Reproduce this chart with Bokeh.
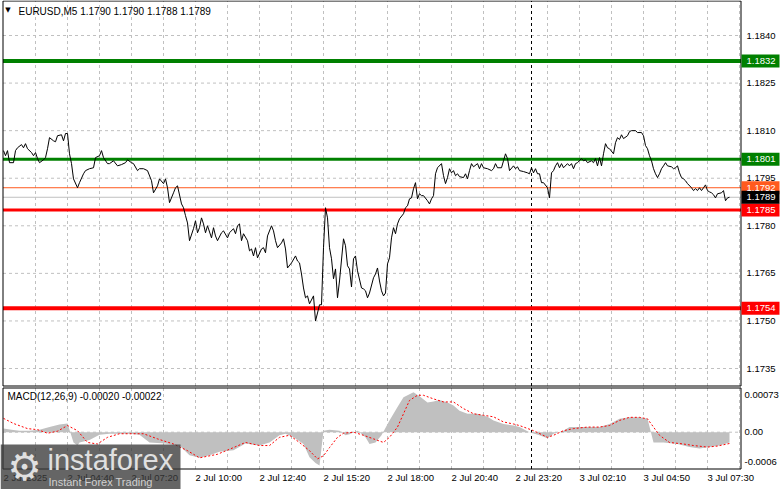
from bokeh.plotting import figure
from bokeh.models import Range1d
from bokeh.core.properties import value
from bokeh.embed import file_html
from bokeh.resources import INLINE

FONT = "Liberation Sans"

# ---------------- data ----------------
symbol_title = "EURUSD,M5  1.1790 1.1790 1.1788 1.1789"
macd_title = "MACD(12,26,9) -0.00020 -0.00022"

price_bar = [0, 1, 2, 3, 5, 6, 7, 9, 10, 11, 12, 14, 15, 16, 17, 18, 20, 21, 22, 23, 25, 26, 27, 29, 30, 31, 32,
             33, 34, 35, 37, 38, 40, 41, 43, 45, 46, 48, 49, 50, 52, 53, 55, 57, 59, 61, 62, 64, 65, 67, 68, 70,
             72, 74, 75, 77, 78, 80, 81, 82, 83, 85, 86, 87, 89, 90, 91, 92, 93, 95, 96, 97, 98, 99, 100, 101,
             102, 104, 105, 106, 107, 109, 110, 112, 113, 115, 116, 117, 118, 119, 120, 122, 123, 124, 125, 126,
             127, 129, 130, 131, 132, 134, 135, 136, 137, 139, 140, 141, 142, 144, 146, 147, 148, 149, 150, 151,
             152, 153, 155, 156, 157, 158, 159, 160, 161, 162, 163, 164, 165, 166, 167, 168, 170, 171, 172, 173,
             174, 175, 176, 177, 179, 180, 181, 182, 183, 185, 186, 187, 188, 189, 190, 191, 192, 193, 194, 195,
             196, 197, 198, 200, 201, 202, 203, 204, 205, 206, 207, 208, 209, 210, 212, 213, 214, 215, 216, 217,
             219, 220, 221, 222, 223, 224, 225, 226, 227, 228, 230, 231, 232, 233, 234, 235, 237, 238, 239, 240,
             242, 244, 245, 246, 247, 249, 250, 251, 252, 253, 255, 256, 257, 258, 260, 262, 263, 264, 265, 266,
             267, 268, 269, 270, 272, 273, 274, 275, 276, 277, 278, 279, 280, 282, 283, 284, 285, 286, 287, 289,
             290, 291, 292, 294, 295, 296, 297, 298, 299, 300, 301, 302, 303, 305, 306, 307, 308, 309, 310, 312,
             313, 314, 316, 317, 319, 320, 321, 322, 323, 324, 325, 326, 327, 328, 329, 330, 331, 332, 334, 335,
             336, 337, 338, 339, 340, 341, 342, 344, 345, 346, 347, 348, 349, 350, 351, 352, 353, 354, 355, 356,
             357, 359, 360, 361, 362, 363]
price_close = [1.18037, 1.18021, 1.18037, 1.17999, 1.17999, 1.18037, 1.18046, 1.18056, 1.18046, 1.18059, 1.18043,
               1.18031, 1.18021, 1.18031, 1.18012, 1.17999, 1.18008, 1.18015, 1.18043, 1.18078, 1.18068, 1.18065,
               1.18084, 1.18087, 1.18068, 1.18091, 1.18091, 1.18027, 1.17996, 1.17948, 1.17920, 1.17936, 1.17964,
               1.17974, 1.17980, 1.17983, 1.18015, 1.18021, 1.18037, 1.18015, 1.17996, 1.17996, 1.18005, 1.17989,
               1.17993, 1.17999, 1.18008, 1.17999, 1.17996, 1.17974, 1.17980, 1.17980, 1.17974, 1.17942, 1.17904,
               1.17926, 1.17948, 1.17933, 1.17948, 1.17920, 1.17873, 1.17904, 1.17920, 1.17926, 1.17869, 1.17857,
               1.17832, 1.17809, 1.17753, 1.17791, 1.17816, 1.17778, 1.17794, 1.17825, 1.17806, 1.17778, 1.17800,
               1.17762, 1.17794, 1.17768, 1.17753, 1.17778, 1.17784, 1.17762, 1.17778, 1.17791, 1.17775, 1.17800,
               1.17806, 1.17753, 1.17775, 1.17753, 1.17721, 1.17727, 1.17705, 1.17731, 1.17699, 1.17727, 1.17731,
               1.17715, 1.17768, 1.17800, 1.17784, 1.17753, 1.17731, 1.17746, 1.17759, 1.17727, 1.17667, 1.17683,
               1.17705, 1.17689, 1.17683, 1.17648, 1.17604, 1.17573, 1.17579, 1.17554, 1.17579, 1.17500, 1.17525,
               1.17551, 1.17551, 1.17731, 1.17857, 1.17825, 1.17731, 1.17696, 1.17633, 1.17664, 1.17573, 1.17626,
               1.17759, 1.17737, 1.17674, 1.17664, 1.17607, 1.17696, 1.17705, 1.17658, 1.17604, 1.17601, 1.17595,
               1.17573, 1.17588, 1.17636, 1.17648, 1.17667, 1.17626, 1.17595, 1.17579, 1.17588, 1.17680, 1.17699,
               1.17762, 1.17794, 1.17775, 1.17806, 1.17822, 1.17838, 1.17857, 1.17863, 1.17885, 1.17888, 1.17917,
               1.17936, 1.17885, 1.17901, 1.17895, 1.17895, 1.17879, 1.17869, 1.17885, 1.17895, 1.17964, 1.17983,
               1.17996, 1.17958, 1.17933, 1.17952, 1.17980, 1.17967, 1.17974, 1.17958, 1.17964, 1.17955, 1.17952,
               1.17964, 1.17948, 1.17974, 1.17996, 1.17986, 1.17996, 1.17980, 1.17996, 1.17983, 1.17980, 1.17974,
               1.17980, 1.17996, 1.17983, 1.17983, 1.18005, 1.18027, 1.18012, 1.17974, 1.17989, 1.17980, 1.17986,
               1.17974, 1.17971, 1.17967, 1.17964, 1.17983, 1.17967, 1.17980, 1.17964, 1.17964, 1.17936, 1.17936,
               1.17920, 1.17888, 1.17967, 1.17974, 1.17989, 1.17999, 1.17983, 1.17996, 1.17983, 1.17996, 1.17989,
               1.17996, 1.17980, 1.17996, 1.17999, 1.18012, 1.18005, 1.18008, 1.17999, 1.18005, 1.17999, 1.18012,
               1.17989, 1.18015, 1.17989, 1.18027, 1.18059, 1.18046, 1.18043, 1.18027, 1.18062, 1.18078, 1.18072,
               1.18087, 1.18075, 1.18084, 1.18097, 1.18100, 1.18100, 1.18094, 1.18094, 1.18084, 1.18053, 1.18043,
               1.18021, 1.18005, 1.17980, 1.17964, 1.17952, 1.17964, 1.17980, 1.17989, 1.17999, 1.17989, 1.17986,
               1.17980, 1.17983, 1.17989, 1.17967, 1.17952, 1.17948, 1.17942, 1.17933, 1.17920, 1.17911, 1.17917,
               1.17911, 1.17920, 1.17911, 1.17920, 1.17929, 1.17911, 1.17907, 1.17904, 1.17898, 1.17888, 1.17901,
               1.17904, 1.17911, 1.17879, 1.17888, 1.17890]

macd_bar = [0, 4, 8, 13, 18, 23, 28, 32, 33, 35, 37, 38, 43, 48, 53, 58, 63, 68, 73, 81, 88, 93, 98, 103, 108,
            115, 121, 126, 128, 133, 138, 141, 145, 150, 153, 156, 158, 160, 163, 168, 171, 173, 177, 178, 181,
            183, 186, 189, 193, 197, 200, 205, 208, 212, 215, 218, 222, 225, 228, 232, 237, 242, 245, 250, 255,
            258, 262, 263, 268, 272, 275, 280, 283, 288, 298, 303, 308, 313, 318, 322, 325, 330, 337, 343, 348,
            353, 358, 363]
macd_main = [0.00007, 0.00005, 0.00003, 0.00003, 0.00005, 0.00010, 0.00015, 0.00017, 0.00005, -0.00020, -0.00026,
             -0.00020, -0.00015, -0.00005, -0.00003, -0.00003, -0.00003, -0.00005, -0.00020, -0.00022, -0.00026,
             -0.00045, -0.00050, -0.00045, -0.00038, -0.00035, -0.00022, -0.00025, -0.00026, -0.00020, -0.00006,
             -0.00003, -0.00010, -0.00023, -0.00049, -0.00060, -0.00065, 0.00003, 0.00005, 0.00003, -0.00006,
             -0.00004, 0.00003, 0.0, -0.00010, -0.00023, -0.00020, -0.00006, 0.00023, 0.00049, 0.00068, 0.00078,
             0.00070, 0.00058, 0.00060, 0.00063, 0.00058, 0.00052, 0.00042, 0.00036, 0.00036, 0.00030, 0.00023,
             0.00016, 0.00013, 0.00010, 0.00002, 0.0, -0.00006, -0.00012, -0.00003, 0.00003, 0.00010, 0.00010,
             0.00010, 0.00016, 0.00026, 0.00029, 0.00029, 0.00026, -0.00020, -0.00020, -0.00023, -0.00029,
             -0.00032, -0.00029, -0.00026, -0.00020]

signal_bar = [0, 5, 12, 17, 22, 27, 32, 37, 42, 47, 52, 58, 70, 77, 85, 92, 98, 107, 115, 121, 128, 133, 138, 143,
              148, 153, 157, 160, 163, 167, 170, 175, 180, 185, 190, 193, 197, 200, 203, 207, 210, 215, 220, 225,
              230, 235, 240, 245, 250, 255, 258, 265, 272, 275, 280, 285, 292, 298, 303, 308, 313, 318, 322, 325,
              328, 333, 340, 345, 352, 357, 363]
signal_val = [0.00027, 0.00017, 0.00007, 0.00005, -0.00002, 0.00002, 0.00013, 0.00003, -0.00020, -0.00023,
              -0.00010, -0.00003, -0.00003, -0.00013, -0.00023, -0.00036, -0.00050, -0.00043, -0.00030, -0.00020,
              -0.00026, -0.00026, -0.00010, -0.00006, -0.00020, -0.00036, -0.00052, -0.00046, -0.00030, -0.00010,
              -0.00002, 0.0, -0.00006, -0.00013, -0.00020, -0.00010, 0.00010, 0.00036, 0.00062, 0.00072, 0.00072,
              0.00065, 0.00059, 0.00059, 0.00046, 0.00036, 0.00033, 0.00030, 0.00020, 0.00016, 0.00013, 0.00003,
              -0.00010, -0.00006, 0.00003, 0.00007, 0.00010, 0.00010, 0.00013, 0.00023, 0.00029, 0.00029, 0.00026,
              0.00010, -0.00006, -0.00020, -0.00023, -0.00026, -0.00029, -0.00027, -0.00022]

price_ticks = [1.1735, 1.1750, 1.1765, 1.1780, 1.1795, 1.1810, 1.1825, 1.1840]
time_tick_bars = [0, 32, 64, 96, 128, 160, 192, 224, 256, 288, 320, 352]
time_tick_labels = ["2 Jul 2025", "2 Jul 04:40", "2 Jul 07:20", "2 Jul 10:00", "2 Jul 12:40", "2 Jul 15:20",
                    "2 Jul 18:00", "2 Jul 20:40", "2 Jul 23:20", "3 Jul 02:10", "3 Jul 04:50", "3 Jul 07:30"]
grid_bars = list(range(16, 369, 16))
day_start_bar = 264
macd_ticks = [0.00073, 0.0, -0.00058]
macd_tick_labels = ["0.00073", "0.00", "-0.0006"]

level_price = [1.1832, 1.1801, 1.1785, 1.1754]
level_color = ["#008000", "#008000", "#ff0000", "#ff0000"]
level_width = [4, 3, 3, 4]
ask_price, bid_price = 1.1792, 1.1789

# ---------------- scales (screen <-> data) ----------------
W, H = 781, 489
PX_PER_BAR = 2.0
BAR_AT_0 = -1.5                       # bar index at left edge of canvas
P_TOP, P_PER_PX = 1.185104, 1 / 31714.0   # price at top edge, price per pixel
M_TOP, M_PER_PX = 0.0084182, 0.0000195    # macd at top edge, macd per pixel

def bx(px):  # screen x -> bar
    return BAR_AT_0 + px / PX_PER_BAR

def py(px):  # screen y -> price
    return P_TOP - px * P_PER_PX

def my(px):  # screen y -> macd
    return M_TOP - px * M_PER_PX

f = figure(width=W, height=H, output_backend="svg", toolbar_location=None,
           x_range=Range1d(bx(0), bx(W)), y_range=Range1d(py(H), py(0)),
           x_axis_location=None, y_axis_location=None,
           min_border=0, min_border_left=0, min_border_right=0, min_border_top=0, min_border_bottom=0)
f.extra_y_ranges = {"macd": Range1d(my(H), my(0))}
f.outline_line_color = None
f.xgrid.visible = False
f.ygrid.visible = False
f.background_fill_color = "white"
f.border_fill_color = "white"

GRID = "#c0c0c0"
L, R = bx(2.5), bx(740.5)
MAIN_T, MAIN_B = py(0.5), py(385.5)
MACD_T, MACD_B = my(387.5), my(468.5)

# grids
f.segment(x0=[L] * len(price_ticks), x1=[R] * len(price_ticks), y0=price_ticks, y1=price_ticks,
          line_color=GRID, line_dash="3 3", line_width=1)
f.segment(x0=grid_bars, x1=grid_bars, y0=[MAIN_B] * len(grid_bars), y1=[MAIN_T] * len(grid_bars),
          line_color=GRID, line_dash="3 3", line_width=1)
f.segment(x0=grid_bars, x1=grid_bars, y0=[MACD_B] * len(grid_bars), y1=[MACD_T] * len(grid_bars),
          line_color=GRID, line_dash="3 3", line_width=1, y_range_name="macd")
f.segment(x0=[L], x1=[R], y0=[0.0], y1=[0.0], line_color=GRID, line_dash="3 3", line_width=1,
          y_range_name="macd")

# day separator
f.segment(x0=[day_start_bar], x1=[day_start_bar], y0=[MAIN_B], y1=[MAIN_T], line_color="black",
          line_dash="3 3", line_width=1)
f.segment(x0=[day_start_bar], x1=[day_start_bar], y0=[MACD_B], y1=[MACD_T], line_color="black",
          line_dash="3 3", line_width=1, y_range_name="macd")

# bid / ask lines
f.segment(x0=[L], x1=[R], y0=[ask_price], y1=[ask_price], line_color="#ff5a1e", line_width=1)
f.segment(x0=[L], x1=[R], y0=[bid_price], y1=[bid_price], line_color="#c0c0c0", line_width=1)

# level lines
for lv, col, w in zip(level_price, level_color, level_width):
    f.segment(x0=[L], x1=[R], y0=[lv], y1=[lv], line_color=col, line_width=w)

# price
f.line(price_bar, price_close, line_color="black", line_width=1)

# macd
f.varea(x=macd_bar, y1=[0.0] * len(macd_bar), y2=macd_main, fill_color="#c0c0c0", fill_alpha=1.0,
        y_range_name="macd")
f.line(signal_bar, signal_val, line_color="#ff0000", line_dash="2 2", line_width=1, y_range_name="macd")

# frames
f.quad(left=[L], right=[R], top=[MAIN_T], bottom=[MAIN_B], fill_color=None, line_color="black", line_width=1)
f.quad(left=[L], right=[R], top=[MACD_T], bottom=[MACD_B], fill_color=None, line_color="black", line_width=1,
       y_range_name="macd")

# price scale labels
f.text(x=[bx(746)] * len(price_ticks), y=price_ticks, text=[f"{t:.4f}" for t in price_ticks],
       text_font=value(FONT), text_font_size="9.5px", text_color="black", text_align="left",
       text_baseline="middle")
f.text(x=[bx(744)] * len(macd_ticks), y=macd_ticks, text=macd_tick_labels, text_font=value(FONT),
       text_font_size="9.5px", text_color="black", text_align="left", text_baseline="middle",
       y_range_name="macd")

# price tags
tag_prices = level_price + [ask_price, bid_price]
tag_colors = level_color + ["#ff5a1e", "black"]
f.rect(x=[bx(760)] * len(tag_prices), y=tag_prices, width=38, height=13, width_units="screen",
       height_units="screen", fill_color=tag_colors, line_color=None)
f.text(x=[bx(746)] * len(tag_prices), y=tag_prices, text=[f"{t:.4f}" for t in tag_prices],
       text_font=value(FONT), text_font_size="9.5px", text_color="white", text_align="left",
       text_baseline="middle")

# time labels
f.text(x=time_tick_bars, y=[my(477)] * len(time_tick_bars), text=time_tick_labels, text_font=value(FONT),
       text_font_size="9.5px", text_color="black", text_align="left", text_baseline="middle",
       y_range_name="macd")

# titles
f.text(x=[bx(7.5)], y=[py(9.5)], text=["\u25bc"], text_font=value("DejaVu Sans"), text_font_size="7px",
       text_color="black", text_align="center", text_baseline="middle")
f.text(x=[bx(18)], y=[py(10.5)], text=[symbol_title], text_font=value(FONT), text_font_size="10px",
       text_color="black", text_align="left", text_baseline="middle")
f.text(x=[bx(7)], y=[my(396)], text=[macd_title], text_font=value(FONT), text_font_size="10px",
       text_color="black", text_align="left", text_baseline="middle", y_range_name="macd")

# watermark
f.quad(left=[bx(0)], right=[bx(180)], top=[my(444)], bottom=[my(489)], fill_color="#3a3a3a",
       fill_alpha=0.78, line_color=None, y_range_name="macd")
f.text(x=[bx(24)], y=[my(466)], text=["\u2699"], text_font=value("DejaVu Sans"), text_font_size="38px",
       text_color="#e0e0e0", text_align="center", text_baseline="middle", y_range_name="macd")
f.text(x=[bx(47)], y=[my(459)], text=["instaforex"], text_font=value(FONT), text_font_size="29px",
       text_color="#e0e0e0", text_align="left", text_baseline="middle", y_range_name="macd")
f.text(x=[bx(48)], y=[my(481)], text=["Instant Forex Trading"], text_font=value(FONT), text_font_size="11px",
       text_color="#d0d0d0", text_align="left", text_baseline="middle", y_range_name="macd")

open("out.html", "w").write(file_html(f, INLINE))
